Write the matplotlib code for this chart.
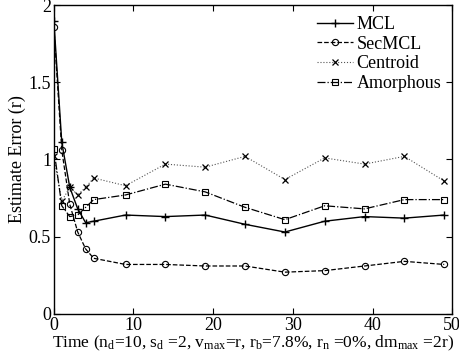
import matplotlib
matplotlib.use("Agg")
import matplotlib.pyplot as plt

plt.rcParams['font.family'] = ['Liberation Serif', 'DejaVu Serif']
plt.rcParams['mathtext.fontset'] = 'custom'
plt.rcParams['mathtext.rm'] = 'Liberation Serif'
plt.rcParams['mathtext.it'] = 'Liberation Serif:italic'

time = [0, 1, 2, 3, 4, 5, 9, 14, 19, 24, 29, 34, 39, 44, 49]
mcl = [1.90, 1.11, 0.82, 0.68, 0.59, 0.60, 0.64, 0.63, 0.64, 0.58, 0.53, 0.60, 0.63, 0.62, 0.64]
secmcl = [1.86, 1.06, 0.71, 0.53, 0.42, 0.36, 0.32, 0.32, 0.31, 0.31, 0.27, 0.28, 0.31, 0.34, 0.32]
centroid = [1.02, 0.73, 0.82, 0.77, 0.82, 0.88, 0.83, 0.97, 0.95, 1.02, 0.87, 1.01, 0.97, 1.02, 0.86]
amorphous = [1.07, 0.70, 0.63, 0.64, 0.69, 0.74, 0.77, 0.84, 0.79, 0.69, 0.61, 0.70, 0.68, 0.74, 0.74]

fig = plt.figure(figsize=(4.6, 3.62), dpi=100)
ax = fig.add_axes([0.117, 0.133, 0.866, 0.853])

ax.plot(time, mcl, color='black', linestyle='-', marker='+', markersize=6, linewidth=1.0, label='MCL')
ax.plot(time, secmcl, color='black', linestyle='--', marker='o', markersize=4.5, markerfacecolor='none',
        markeredgewidth=0.8, linewidth=0.9, label='SecMCL')
ax.plot(time, centroid, color='#555555', linestyle=':', marker='x', markersize=4, markeredgecolor='black',
        markeredgewidth=0.9, linewidth=0.8, label='Centroid')
ax.plot(time, amorphous, color='black', linestyle='-.', marker='s', markersize=4.5, markerfacecolor='none',
        markeredgewidth=0.8, linewidth=0.9, label='Amorphous')

ax.set_xlim(0, 50)
ax.set_ylim(0, 2)
ax.set_xticks([0, 10, 20, 30, 40, 50])
ax.set_yticks([0, 0.5, 1, 1.5, 2])
ax.set_yticklabels(['0', '0.5', '1', '1.5', '2'])
ax.tick_params(direction='in', top=True, right=True, labelsize=13, length=4, width=0.8, pad=2)
for s in ax.spines.values():
    s.set_linewidth(1.0)

ax.set_xlabel(r'Time (n$_\mathrm{d}$=10, s$_\mathrm{d}$ =2, v$_\mathrm{max}$=r, r$_\mathrm{b}$=7.8%, r$_\mathrm{n}$ =0%, dm$_\mathrm{max}$ =2r)',
              fontsize=12.5, labelpad=0)
ax.set_ylabel('Estimate Error (r)', fontsize=13, labelpad=2)

ax.legend(loc='upper right', frameon=False, fontsize=13, handlelength=2.0, handletextpad=0.2,
          labelspacing=0.15, borderaxespad=0.2)

fig.savefig('out.png', dpi=100)
